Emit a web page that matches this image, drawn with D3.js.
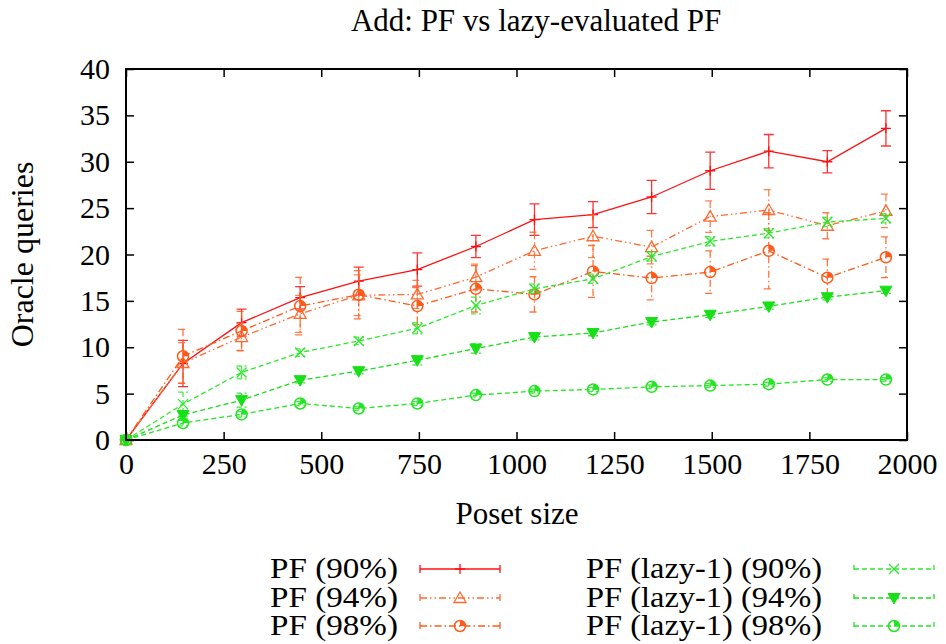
<!DOCTYPE html>
<html><head><meta charset="utf-8">
<script src="https://cdn.jsdelivr.net/npm/d3@7"></script>
<style>body{margin:0;background:#fff}svg text{font-family:"Liberation Serif","Times New Roman",serif;fill:#000}</style>
</head><body><svg id="c" width="946" height="644"></svg>
<script>
const posetSize = [0, 146, 296, 446, 596, 746, 896, 1046, 1196, 1346, 1496, 1646, 1796, 1946];
const pf90 = [0, 8.25, 12.65, 15.34, 17.13, 18.38, 20.86, 23.76, 24.3, 26.2, 29.03, 31.14, 30.0, 33.6];
const pf90Err = [0, 2.5, 1.45, 1.2, 1.5, 1.8, 1.2, 1.7, 1.4, 1.8, 2.0, 1.8, 1.2, 1.9];
const pf94 = [0, 8.3, 11.1, 13.6, 15.6, 15.7, 17.56, 20.4, 21.97, 20.8, 24.08, 24.8, 23.1, 24.7];
const pf94Err = [0, 2.2, 1.5, 2.0, 2.2, 1.5, 1.4, 2.0, 2.3, 1.8, 1.7, 2.2, 1.4, 1.8];
const pf98 = [0, 9.03, 11.76, 14.44, 15.66, 14.44, 16.3, 15.7, 18.17, 17.46, 18.1, 20.4, 17.5, 19.7];
const pf98Err = [0, 2.9, 2.1, 3.1, 2.6, 2.0, 2.5, 1.9, 2.8, 2.35, 2.3, 4.1, 2.0, 2.2];
const lazy90 = [0, 3.87, 7.28, 9.43, 10.68, 12.04, 14.5, 16.3, 17.38, 19.78, 21.42, 22.3, 23.5, 23.9];
const lazy90Err = [0, 1.3, 0.7, 0.4, 0.4, 0.6, 0.9, 0.5, 0.5, 0.5, 0.5, 0.5, 0.5, 0.5];
const lazy94 = [0, 2.69, 4.3, 6.45, 7.42, 8.6, 9.86, 11.1, 11.54, 12.72, 13.5, 14.4, 15.4, 16.1];
const lazy94Err = [0, 0.5, 0.75, 0.3, 0.3, 0.5, 0.5, 0.3, 0.3, 0.3, 0.3, 0.3, 0.3, 0.3];
const lazy98 = [0, 1.83, 2.76, 3.94, 3.4, 3.94, 4.84, 5.27, 5.45, 5.73, 5.87, 6.02, 6.52, 6.52];
const lazy98Err = [0, 0.3, 0.3, 0.2, 0.2, 0.2, 0.2, 0.2, 0.2, 0.2, 0.2, 0.2, 0.2, 0.2];
const xTicks = [0, 250, 500, 750, 1000, 1250, 1500, 1750, 2000];
const yTicks = [0, 5, 10, 15, 20, 25, 30, 35, 40];
const seriesNames = ["PF (90%)", "PF (94%)", "PF (98%)", "PF (lazy-1) (90%)", "PF (lazy-1) (94%)", "PF (lazy-1) (98%)"];
const titleText = "Add: PF vs lazy-evaluated PF";
const xLabel = "Poset size";
const yLabel = "Oracle queries";

const series = [
  {name: seriesNames[0], v: pf90, e: pf90Err, color: "#ff1010", dash: null, marker: "plus"},
  {name: seriesNames[1], v: pf94, e: pf94Err, color: "#ff6a33", dash: "7,3,1.5,3,1.5,3", marker: "tri"},
  {name: seriesNames[2], v: pf98, e: pf98Err, color: "#ff5a1a", dash: "7,3,1.5,3", marker: "circ"},
  {name: seriesNames[3], v: lazy90, e: lazy90Err, color: "#2ee82e", dash: "5,3", marker: "x"},
  {name: seriesNames[4], v: lazy94, e: lazy94Err, color: "#18e018", dash: "5,3", marker: "tridown"},
  {name: seriesNames[5], v: lazy98, e: lazy98Err, color: "#22e622", dash: "5,3", marker: "circ"}
];

const svg = d3.select("#c");
const L = 126, R = 907, T = 69, B = 440;
const x = d3.scaleLinear().domain([0, 2000]).range([L, R]);
const y = d3.scaleLinear().domain([0, 40]).range([B, T]);
const FS = 30;

// axes
const ax = svg.append("g");
ax.append("g").attr("transform", `translate(0,${B})`)
  .call(d3.axisBottom(x).tickValues(xTicks).tickFormat(d3.format("d")).tickSize(-8).tickPadding(10))
  .call(g => g.select(".domain").remove())
  .call(g => g.selectAll("text").attr("font-size", FS).attr("font-family", "Liberation Serif").attr("dy", "0.8em"));
ax.append("g").attr("transform", `translate(0,${T})`)
  .call(d3.axisTop(x).tickValues(xTicks).tickFormat("").tickSize(-8))
  .call(g => g.select(".domain").remove());
ax.append("g").attr("transform", `translate(${L},0)`)
  .call(d3.axisLeft(y).tickValues(yTicks).tickSize(-8).tickPadding(16))
  .call(g => g.select(".domain").remove())
  .call(g => g.selectAll("text").attr("font-size", FS).attr("font-family", "Liberation Serif"));
ax.append("g").attr("transform", `translate(${R},0)`)
  .call(d3.axisRight(y).tickValues(yTicks).tickFormat("").tickSize(-8))
  .call(g => g.select(".domain").remove());
ax.selectAll(".tick line").attr("stroke", "#000").attr("stroke-width", 1.5);

svg.append("text").attr("x", 536).attr("y", 31).attr("text-anchor", "middle").attr("font-size", 31).text(titleText);
svg.append("text").attr("x", 517).attr("y", 524).attr("text-anchor", "middle").attr("font-size", 31).text(xLabel);
svg.append("text").attr("transform", `translate(33,${(T + B) / 2}) rotate(-90)`).attr("text-anchor", "middle").attr("font-size", 32).text(yLabel);

function drawMarker(g, type, cx, cy, color) {
  if (type === "plus") {
    g.append("path").attr("d", `M${cx - 5},${cy}H${cx + 5}M${cx},${cy - 5}V${cy + 5}`).attr("stroke", color).attr("stroke-width", 1.3).attr("fill", "none");
  } else if (type === "x") {
    g.append("path").attr("d", `M${cx - 5},${cy - 5}L${cx + 5},${cy + 5}M${cx - 5},${cy + 5}L${cx + 5},${cy - 5}`).attr("stroke", color).attr("stroke-width", 1.3).attr("fill", "none");
  } else if (type === "tri") {
    g.append("path").attr("d", `M${cx},${cy - 6}L${cx + 6},${cy + 4.5}L${cx - 6},${cy + 4.5}Z`).attr("stroke", color).attr("stroke-width", 1.3).attr("fill", "none");
  } else if (type === "tridown") {
    g.append("path").attr("d", `M${cx},${cy + 6}L${cx + 6},${cy - 4.5}L${cx - 6},${cy - 4.5}Z`).attr("stroke", color).attr("stroke-width", 1).attr("fill", color);
  } else if (type === "circ") {
    g.append("circle").attr("cx", cx).attr("cy", cy).attr("r", 5.5).attr("stroke", color).attr("stroke-width", 1.5).attr("fill", "none");
    g.append("path").attr("transform", `translate(${cx},${cy})`).attr("d", d3.arc()({innerRadius: 0, outerRadius: 5.5, startAngle: 0, endAngle: Math.PI / 2})).attr("fill", color);
  }
}

const plot = svg.append("g");
series.forEach(s => {
  const g = plot.append("g");
  const pts = posetSize.map((p, i) => ({p, v: s.v[i], e: s.e[i]}));
  pts.forEach(d => {
    if (d.e <= 0) return;
    const xx = x(d.p), y1 = y(d.v + d.e), y2 = y(d.v - d.e);
    g.append("path").attr("d", `M${xx},${y1}V${y2}M${xx - 5},${y1}H${xx + 5}M${xx - 5},${y2}H${xx + 5}`)
      .attr("stroke", s.color).attr("stroke-width", 1.3).attr("fill", "none")
      .attr("stroke-dasharray", s.dash).attr("opacity", 0.85);
  });
  g.append("path").datum(pts)
    .attr("d", d3.line().x(d => x(d.p)).y(d => y(d.v)))
    .attr("fill", "none").attr("stroke", s.color).attr("stroke-width", 1.3)
    .attr("stroke-dasharray", s.dash);
  pts.forEach(d => drawMarker(g, s.marker, x(d.p), y(d.v), s.color));
});

svg.append("rect").attr("x", L).attr("y", T).attr("width", R - L).attr("height", B - T)
  .attr("fill", "none").attr("stroke", "#000").attr("stroke-width", 2);

// legend
const legRows = [569, 598, 626];
series.forEach((s, i) => {
  const col = i < 3 ? 0 : 1;
  const row = i % 3;
  const textRight = col === 0 ? 398 : 822;
  const x1 = col === 0 ? 420 : 854, x2 = col === 0 ? 500 : 934;
  const yy = legRows[row];
  const g = svg.append("g");
  g.append("text").attr("x", textRight).attr("y", yy + 9).attr("text-anchor", "end").attr("font-size", 27)
    .attr("textLength", col === 0 ? 128 : 236).attr("lengthAdjust", "spacingAndGlyphs")
    .attr("transform", `translate(0,${yy + 9}) scale(1,1.12) translate(0,${-(yy + 9)})`).text(s.name);
  g.append("path").attr("d", `M${x1},${yy}H${x2}M${x1},${yy - 4}V${yy + 4}M${x2},${yy - 4}V${yy + 4}`)
    .attr("stroke", s.color).attr("stroke-width", 1.3).attr("fill", "none").attr("stroke-dasharray", s.dash);
  drawMarker(g, s.marker, (x1 + x2) / 2, yy, s.color);
});
</script></body></html>
